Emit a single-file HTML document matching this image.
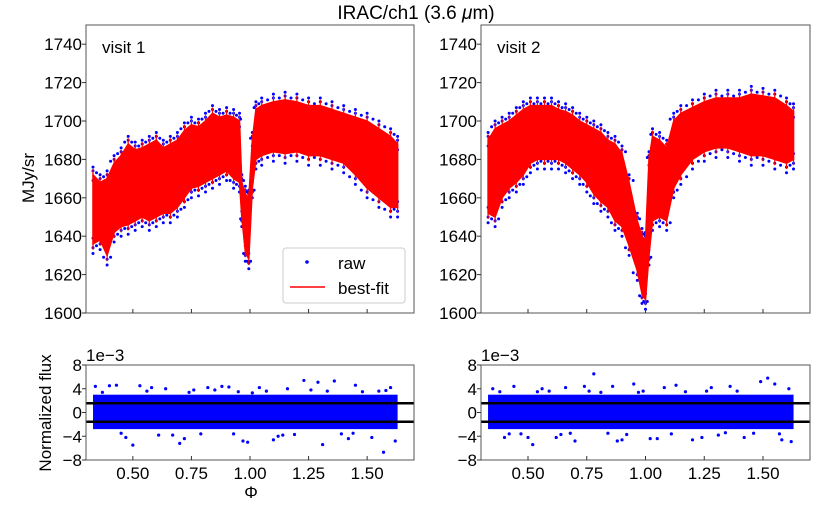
<!DOCTYPE html>
<html><head><meta charset="utf-8"><style>
body{margin:0;background:#fff}
svg{display:block;font-family:"Liberation Sans","DejaVu Sans",sans-serif}
</style></head><body>
<svg id="c" width="830" height="519" viewBox="0 0 830 519"></svg>
<script>
const visit1Phase=[0.33,0.36,0.39,0.42,0.45,0.48,0.51,0.54,0.57,0.60,0.63,0.66,0.69,0.72,0.75,0.78,0.81,0.84,0.87,0.90,0.93,0.955,0.965,0.98,0.995,1.01,1.025,1.05,1.10,1.15,1.20,1.25,1.30,1.35,1.40,1.45,1.50,1.55,1.60,1.63];
const visit1Lo=[1636,1638,1630,1642,1645,1646,1648,1650,1648,1650,1652,1652,1655,1660,1665,1666,1668,1670,1672,1674,1670,1668,1650,1632,1628,1665,1680,1682,1684,1683,1684,1682,1682,1680,1678,1672,1665,1660,1655,1655];
const visit1Hi=[1672,1668,1670,1678,1682,1688,1685,1686,1688,1690,1686,1688,1690,1695,1698,1697,1700,1704,1702,1703,1702,1700,1668,1662,1660,1690,1706,1708,1710,1711,1710,1708,1708,1706,1704,1702,1700,1696,1692,1688];
const visit2Phase=[0.33,0.36,0.39,0.42,0.45,0.48,0.51,0.54,0.57,0.60,0.63,0.66,0.69,0.72,0.75,0.78,0.81,0.84,0.87,0.90,0.93,0.965,0.985,1.0,1.015,1.03,1.06,1.09,1.12,1.15,1.20,1.25,1.30,1.35,1.40,1.45,1.50,1.55,1.60,1.63];
const visit2Lo=[1652,1650,1660,1665,1668,1672,1678,1680,1680,1680,1680,1678,1675,1672,1668,1662,1658,1655,1648,1645,1635,1622,1610,1607,1630,1648,1650,1648,1665,1672,1680,1684,1686,1686,1684,1682,1682,1680,1678,1680];
const visit2Hi=[1690,1696,1698,1700,1703,1706,1708,1708,1708,1708,1706,1705,1703,1700,1698,1696,1694,1690,1688,1683,1668,1648,1640,1638,1680,1692,1690,1686,1700,1704,1707,1710,1712,1712,1712,1714,1713,1712,1708,1705];
const resid1Phase=[0.34,0.40,0.43,0.50,0.53,0.58,0.64,0.70,0.76,0.82,0.88,0.91,0.97,1.04,1.10,1.16,1.23,1.29,1.31,1.36,1.42,1.45,1.52,1.57,1.60,1.62,0.47,0.72,0.99,1.12,0.37,0.56,0.67,0.79,0.85,0.95,1.07,1.19,1.26,1.39,1.48,1.55,0.45,0.61,0.74,0.93,1.01,1.14,1.33,1.44,1.58];
const resid1Val=[4.4,4.5,4.6,-5.5,4.5,4.2,4.0,-5.2,3.8,4.2,4.4,4.3,-4.8,4.2,-4.6,4.0,5.4,5.1,-5.4,5.3,-4.4,4.6,-4.2,-6.7,4.2,-4.8,-4.2,-4.4,-5.0,-4.0,3.4,3.6,-3.8,-3.6,3.8,3.5,3.6,-3.7,3.8,-3.6,3.5,3.6,-3.5,-3.8,3.4,-3.6,3.3,-3.8,3.6,-3.5,3.7];
const resid2Phase=[0.35,0.40,0.44,0.52,0.56,0.62,0.70,0.74,0.78,0.86,0.90,0.95,1.02,1.08,1.13,1.20,1.28,1.36,1.42,1.49,1.52,1.55,1.58,1.61,0.50,0.66,0.88,1.05,1.24,1.62,0.38,0.47,0.59,0.68,0.81,0.92,0.99,1.11,1.17,1.31,1.39,1.46,0.42,0.54,0.64,0.76,0.84,0.97,1.26,1.34,1.57];
const resid2Val=[4.0,-4.2,4.4,-5.4,4.0,-4.2,-4.8,4.4,6.5,4.4,-4.6,4.8,-4.4,4.2,4.6,-4.6,4.2,4.4,-4.2,5.2,5.8,4.8,-4.6,4.0,-4.2,4.2,-4.8,-4.4,-4.2,-4.9,3.5,-3.6,3.6,-3.5,3.4,-3.7,3.6,-3.6,3.5,-3.8,3.6,-3.5,-3.6,3.5,-3.7,3.6,-3.5,3.4,3.6,-3.4,-3.6];
const residBand=[-2.8,3.0];
const sigmaLines=[1.55,-1.55];
const topTicks=[1600,1620,1640,1660,1680,1700,1720,1740];
const botTicks=[-8,-4,0,4,8];
const xTicks=[0.5,0.75,1.0,1.25,1.5];

const svg=document.getElementById('c');
const NS='http://www.w3.org/2000/svg';
function mk(t,a,p){const e=document.createElementNS(NS,t);for(const k in a)e.setAttribute(k,a[k]);(p||svg).appendChild(e);return e;}
const XMIN=0.30,XMAX=1.70;
function panel(x0,x1,y0,y1,ymin,ymax){return{x:v=>x0+(v-XMIN)/(XMAX-XMIN)*(x1-x0),y:v=>y1-(v-ymin)/(ymax-ymin)*(y1-y0),x0,x1,y0,y1};}

let t=mk('text',{x:416,y:19,'font-size':19,'text-anchor':'middle',fill:'#000'});


t.innerHTML='IRAC/ch1 (3.6 <tspan font-style="italic">μ</tspan>m)';

function topPanel(name,x0,x1,ph,lo,hi,label){
  const P=panel(x0,x1,25,313,1600,1750);
  const g=mk('g',{});
  
  
  const dots=mk('g',{fill:'#0000ff'},g);
  
  
  for(let i=0;i<ph.length;i++){
    for(const v of [lo[i]-2,hi[i]+2,lo[i]+3,hi[i]-3,lo[i]-5,hi[i]+4]){
      const c=mk('circle',{cx:P.x(ph[i]).toFixed(1),cy:P.y(v).toFixed(1),r:1.5},dots);
      
      
    }
    if(i<ph.length-1){
      const mp=(ph[i]+ph[i+1])/2;
      for(const v of [Math.min(lo[i],lo[i+1])-1,Math.max(hi[i],hi[i+1])+1]){
        const c=mk('circle',{cx:P.x(mp).toFixed(1),cy:P.y(v).toFixed(1),r:1.5},dots);
        
        
      }
    }
  }
  let pts=[];
  for(let i=0;i<ph.length;i++)pts.push(P.x(ph[i]).toFixed(1)+','+P.y(hi[i]).toFixed(1));
  for(let i=ph.length-1;i>=0;i--)pts.push(P.x(ph[i]).toFixed(1)+','+P.y(lo[i]).toFixed(1));
  const band=mk('polygon',{points:pts.join(' '),fill:'#ff0000',stroke:'#ff0000','stroke-width':1.5},g);
  
  
  for(let i=0;i<ph.length;i++){
    const s=mk('line',{x1:P.x(ph[i]),x2:P.x(ph[i]),y1:P.y(lo[i]-3),y2:P.y(hi[i]+3),stroke:'#ff0000','stroke-width':1.2},g);
    
    
  }
  axes(P,topTicks,g,false);
  const l=mk('text',{x:x0+16,y:53,'font-size':17},g);
  
  
  l.textContent=label;
  return P;
}
function axes(P,yt,g,xlabels){
  const fr=mk('rect',{x:P.x0,y:P.y0,width:P.x1-P.x0,height:P.y1-P.y0,fill:'none',stroke:'#555','stroke-width':1},g);
  
  
  for(const v of yt){
    const yy=P.y(v);
    mk('line',{x1:P.x0-4,x2:P.x0,y1:yy,y2:yy,stroke:'#333'},g);
    const tx=mk('text',{x:P.x0-4,y:yy+6,'font-size':17,'text-anchor':'end'},g);
    
    
    tx.textContent=v<0?'−'+(-v):v;
  }
  for(const v of xTicks){
    const xx=P.x(v);
    mk('line',{x1:xx,x2:xx,y1:P.y1,y2:P.y1-4,stroke:'#333'},g);
    if(xlabels){
      const tx=mk('text',{x:xx,y:P.y1+19,'font-size':17,'text-anchor':'middle'},g);
      
      
      tx.textContent=v.toFixed(2);
    }
  }
}
function botPanel(name,x0,x1,ph,vals,first,last){
  const P=panel(x0,x1,365,460,-8,8);
  const g=mk('g',{});
  
  
  const b=mk('rect',{x:P.x(first),y:P.y(residBand[1]),width:P.x(last)-P.x(first),height:P.y(residBand[0])-P.y(residBand[1]),fill:'#0000ff'},g);
  
  
  const dots=mk('g',{fill:'#0000ff'},g);
  
  
  for(let i=0;i<ph.length;i++){
    const c=mk('circle',{cx:P.x(ph[i]),cy:P.y(vals[i]),r:1.6},dots);
    
    
  }
  for(const s of sigmaLines){
    const l=mk('line',{x1:P.x0,x2:P.x1,y1:P.y(s),y2:P.y(s),stroke:'#000','stroke-width':2.5},g);
    
    
  }
  axes(P,botTicks,g,true);
  const e=mk('text',{x:x0,y:361,'font-size':17},g);
  
  
  e.textContent='1e−3';
}
topPanel('visit-1-panel',86,414,visit1Phase,visit1Lo,visit1Hi,'visit 1');
topPanel('visit-2-panel',481,810,visit2Phase,visit2Lo,visit2Hi,'visit 2');
botPanel('visit-1-residuals',86,414,resid1Phase,resid1Val,0.33,1.63);
botPanel('visit-2-residuals',481,810,resid2Phase,resid2Val,0.33,1.63);

const lg=mk('g',{});


mk('rect',{x:283,y:248,width:122,height:55,rx:3,fill:'#fff',stroke:'#ccc'},lg);
mk('circle',{cx:307,cy:262,r:1.8,fill:'#0000ff'},lg);
let lt=mk('text',{x:338,y:269,'font-size':17},lg);lt.textContent='raw';


mk('line',{x1:290,x2:325,y1:287,y2:287,stroke:'#ff0000','stroke-width':1.5},lg);
lt=mk('text',{x:338,y:294,'font-size':17},lg);lt.textContent='best-fit';



let yl=mk('text',{x:0,y:0,'font-size':17,'text-anchor':'middle',transform:'translate(34,178) rotate(-90)'});


yl.textContent='MJy/sr';
yl=mk('text',{x:0,y:0,'font-size':17,'text-anchor':'middle',transform:'translate(51,413) rotate(-90)'});


yl.textContent='Normalized flux';
const xl=mk('text',{x:251,y:498,'font-size':17,'text-anchor':'middle'});


xl.textContent='Φ';
</script>
</body></html>
